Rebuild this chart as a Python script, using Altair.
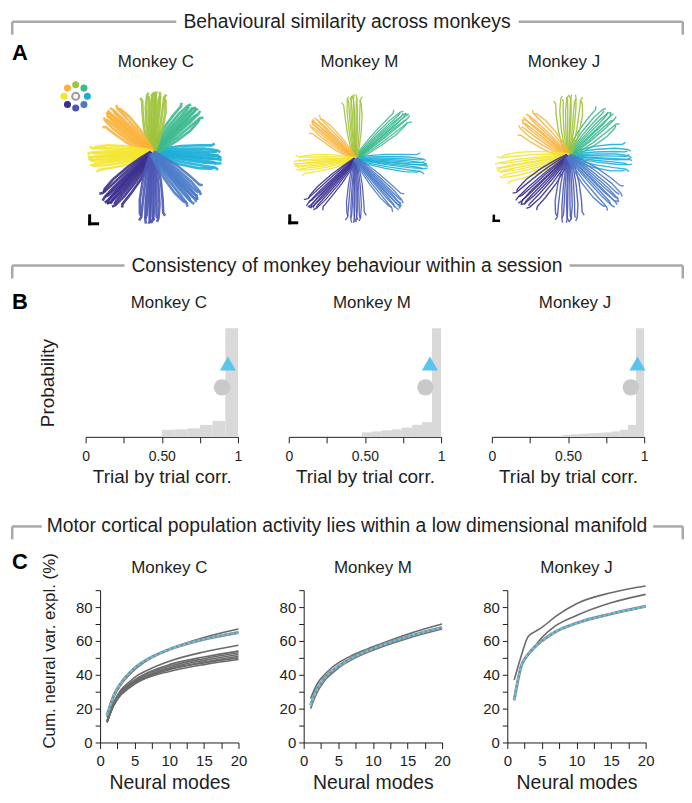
import math
import altair as alt
import pandas as pd

FONT = "Liberation Sans"
INK = "#1E1E1E"
BRACKET = "#A8A8A8"

MONKEYS = ["C", "M", "J"]
TITLES = {"C": "Monkey C", "M": "Monkey M", "J": "Monkey J"}

# ---------------- A: hand trajectories (8 reach directions) ----------------
DIR_NAMES = ["right", "up-right", "up", "up-left", "left", "down-left", "down", "down-right"]
DIR_COLORS = ["#1BAFD8", "#3DB98F", "#9FC33B", "#FBB23C", "#F3E530", "#3A2F8E", "#4B56B2", "#4A7AC8"]
LEGEND_ANGLES = [0, 45, 90, 135, 180, 225, 270, 315]

ARM_ANGLE = {
    "C": [-5, 45, 87, 137, 184, 227, 268, 313],
    "M": [-5, 41, 92, 138, 185, 226, 269, 313],
    "J": [-3, 44, 88, 140, 190, 224, 269, 316],
}
ARM_LENGTH = {
    "C": [70, 64, 62, 62, 65, 69, 71, 66],
    "M": [73, 70, 65, 59, 62, 68, 64, 67],
    "J": [64, 62, 62, 60, 74, 69, 67, 69],
}
ARM_SPREAD = {"C": 1.0, "M": 0.75, "J": 1.15}
TRAJ_LATERAL = [-11, -8, -5, -3, -1, 0, 2, 4, 6, 9, 12]
TRAJ_LENGTH = [0.90, 0.96, 1.00, 0.93, 0.98, 1.00, 0.95, 0.99, 0.92, 0.97, 0.88]
TRAJ_HOOK = [2, -3, 1, -2, 3, -1, 2, -3, 1, -2, 3]
PATH_RADIAL = [0.0, 0.2, 0.45, 0.75, 0.95, 1.0]
PATH_LATERAL = [0.2, 0.5, 0.8, 1.0, 1.0, 1.0]
PATH_HOOK = [0, 0, 0, 0, 0.3, 1.0]

# ---------------- B: trial-by-trial correlation histograms ----------------
HIST_EDGES = {
    "C": [0.50, 0.583, 0.667, 0.75, 0.833, 0.917, 1.0],
    "M": [0.48, 0.545, 0.61, 0.678, 0.743, 0.81, 0.875, 0.94, 1.0],
    "J": [0.465, 0.518, 0.572, 0.625, 0.679, 0.732, 0.786, 0.839, 0.893, 0.946, 1.0],
}
HIST_PROB = {
    "C": [0.044, 0.047, 0.053, 0.075, 0.10, 0.68],
    "M": [0.028, 0.034, 0.041, 0.047, 0.058, 0.075, 0.092, 0.68],
    "J": [0.012, 0.016, 0.019, 0.022, 0.025, 0.028, 0.034, 0.044, 0.075, 0.68],
}
TRIANGLE_X = {"C": 0.934, "M": 0.927, "J": 0.956}
CIRCLE_X = {"C": 0.895, "M": 0.897, "J": 0.912}
TRIANGLE_Y = 0.46
CIRCLE_Y = 0.31

# ---------------- C: cumulative variance explained ----------------
MODES = [1, 2, 3, 4, 5, 7, 10, 15, 20]
GRAY_CURVES = {
    "C": [
        [15, 27, 34, 39, 43, 49, 55, 62, 67],
        [16, 28, 35, 40, 44, 49.5, 55, 61, 65],
        [13, 24, 31, 35, 38.5, 43, 48, 53.5, 57.5],
        [12.5, 23, 30, 34, 37, 41.5, 46, 50.5, 54],
        [12, 23, 29.5, 33.5, 36.5, 41, 45, 49.5, 53],
        [12.5, 23.5, 29.5, 33, 36, 40, 44, 48.5, 52],
        [12, 22.5, 29, 32.5, 35.5, 39.5, 43.5, 47.5, 51],
        [12, 22, 28.5, 32, 35, 39, 43, 47, 50],
        [12, 22, 28, 31.5, 34.5, 38.5, 42, 46, 49],
    ],
    "M": [
        [26, 35, 40, 44, 47, 51.5, 56.5, 64, 70],
        [22, 32, 38, 42, 45, 50, 55.5, 62.5, 68],
        [20, 30, 36.5, 40.5, 44, 49, 54.5, 61.5, 67],
    ],
    "J": [
        [37, 51, 62.5, 65.5, 68, 74.5, 82, 88.5, 92.5],
        [25, 45, 52, 57, 62, 69, 75, 82.5, 87.5],
        [25, 45, 52, 56.5, 60, 65.5, 70.5, 76, 80.5],
    ],
}
BLUE_CURVE = {
    "C": [16, 28, 35, 40, 44, 49.5, 55, 61, 65],
    "M": [22, 32, 38, 42, 45, 50, 55.5, 62.5, 68],
    "J": [25, 45, 52, 56.5, 60, 65.5, 70.5, 76, 80.5],
}
VAR_Y_TITLE = "Cum. neural var. expl. (%)"
X_TICKS_C = [0, 2.5, 5, 7.5, 10, 12.5, 15, 17.5, 20]
Y_TICKS_C = [0, 10, 20, 30, 40, 50, 60, 70, 80, 90]

# ---------------- layout (pixels) ----------------
FULL_W = 676
STAR_FRAME = {  # width, x-domain, y-domain, title dx
    "C": (244, [-142, 102], [-93, 74], 23.5),
    "M": (204, [-102, 102], [-87, 80], 4),
    "J": (228, [-112, 116], [-90, 77], -6.5),
}
STAR_H = 167
SCALEBAR = {"C": (-63, -71, 8, 3), "M": (-66, -64, 7, 3), "J": (-75, -65, 5, 2.5)}
STAR_WIDTH = {"C": 2.6, "M": 1.3, "J": 1.4}
LEGEND_CENTER = (-77, 57)
LEGEND_R = 11.7
VAR_TITLE_OFFSET = {"C": 6, "M": 6, "J": 6}


def panel_title(m, offset, dx=0):
    return alt.TitleParams(TITLES[m], fontSize=17, fontWeight="normal", font=FONT, color=INK,
                           offset=offset, dx=dx, frame="group")


def star_panel(m):
    w, xdom, ydom, tdx = STAR_FRAME[m]
    rows = []
    for d, name in enumerate(DIR_NAMES):
        th = math.radians(ARM_ANGLE[m][d])
        for t in range(len(TRAJ_LATERAL)):
            for k in range(len(PATH_RADIAL)):
                r = ARM_LENGTH[m][d] * TRAJ_LENGTH[t] * PATH_RADIAL[k]
                lat = ARM_SPREAD[m] * TRAJ_LATERAL[t] * PATH_LATERAL[k] + TRAJ_HOOK[t] * PATH_HOOK[k]
                rows.append({"dir": name, "traj": f"{name}-{t}", "step": k,
                             "x": r * math.cos(th) - lat * math.sin(th),
                             "y": r * math.sin(th) + lat * math.cos(th)})
    df = pd.DataFrame(rows)
    xs = alt.Scale(domain=xdom, nice=False, zero=False)
    ys = alt.Scale(domain=ydom, nice=False, zero=False)
    cscale = alt.Scale(domain=DIR_NAMES, range=DIR_COLORS)
    lines = alt.Chart(df).mark_line(strokeWidth=STAR_WIDTH[m], opacity=0.9).encode(
        x=alt.X("x:Q", scale=xs, axis=None),
        y=alt.Y("y:Q", scale=ys, axis=None),
        color=alt.Color("dir:N", scale=cscale, legend=None),
        detail="traj:N",
        order="step:Q",
    )
    bx, by, bl, bw = SCALEBAR[m]
    bar_df = pd.DataFrame({"x": [bx, bx], "y": [by, by], "x2": [bx, bx + bl], "y2": [by + bl, by]})
    bar = alt.Chart(bar_df).mark_rule(color="black", strokeWidth=bw, strokeCap="square").encode(
        x=alt.X("x:Q", scale=xs, axis=None), y=alt.Y("y:Q", scale=ys, axis=None), x2="x2:Q", y2="y2:Q")
    layers = [lines, bar]
    if m == "C":
        cx, cy = LEGEND_CENTER
        leg = pd.DataFrame({
            "dir": DIR_NAMES,
            "x": [cx + LEGEND_R * math.cos(math.radians(a)) for a in LEGEND_ANGLES],
            "y": [cy + LEGEND_R * math.sin(math.radians(a)) for a in LEGEND_ANGLES],
        })
        dots = alt.Chart(leg).mark_circle(size=50, opacity=1).encode(
            x=alt.X("x:Q", scale=xs, axis=None), y=alt.Y("y:Q", scale=ys, axis=None),
            color=alt.Color("dir:N", scale=cscale, legend=None))
        ring = alt.Chart(pd.DataFrame({"x": [cx], "y": [cy]})).mark_point(
            shape="circle", size=50, filled=False, color="#9A9A9A", strokeWidth=2, opacity=1).encode(
            x=alt.X("x:Q", scale=xs, axis=None), y=alt.Y("y:Q", scale=ys, axis=None))
        layers += [dots, ring]
    return alt.layer(*layers).properties(width=w, height=STAR_H, title=panel_title(m, 8, tdx))


HIST_W, HIST_H = 153, 109


def hist_panel(m):
    edges = HIST_EDGES[m]
    df = pd.DataFrame({"lo": edges[:-1], "hi": edges[1:], "p": HIST_PROB[m], "base": 0.0})
    xs = alt.Scale(domain=[0, 1], nice=False)
    ys = alt.Scale(domain=[0, 0.68], nice=False)
    xaxis = alt.Axis(values=[0, 0.25, 0.5, 0.75, 1],
                     labelExpr="datum.value == 0 ? '0' : datum.value == 0.5 ? '0.50' : datum.value == 1 ? '1' : ''",
                     title="Trial by trial corr.", titleFontSize=19, labelFontSize=14, tickSize=6,
                     labelPadding=7, titleY=46, titleBaseline="alphabetic", grid=False, labelOverlap=False,
                     domainColor=INK, tickColor=INK, labelColor=INK, titleColor=INK, labelFlush=False)
    if m == "C":
        yaxis = alt.Axis(title="Probability", labels=False, ticks=False, domain=False, grid=False,
                         titleFontSize=19, titleAngle=270, titleX=-38, titleY=54.5,
                         titleBaseline="middle", titleAlign="center", titleColor=INK)
    else:
        yaxis = None
    enc_x = alt.X("x:Q", scale=xs, axis=xaxis)
    enc_y = alt.Y("y:Q", scale=ys, axis=yaxis)
    bars = alt.Chart(df).mark_rect(color="#D9D9D9").encode(
        x=alt.X("lo:Q", scale=xs, axis=xaxis), x2="hi:Q",
        y=alt.Y("base:Q", scale=ys, axis=yaxis), y2="p:Q")
    circ = alt.Chart(pd.DataFrame({"x": [CIRCLE_X[m]], "y": [CIRCLE_Y]})).mark_circle(
        size=270, color="#C9C9C9", opacity=1).encode(x=enc_x, y=enc_y)
    tri = alt.Chart(pd.DataFrame({"x": [TRIANGLE_X[m]], "y": [TRIANGLE_Y]})).mark_point(
        shape="triangle-up", size=260, filled=True, color="#5BC4EC", opacity=1).encode(x=enc_x, y=enc_y)
    return alt.layer(bars, circ, tri).properties(width=HIST_W, height=HIST_H, title=panel_title(m, 16, 7))


LINE_W, LINE_H = 139, 153


def var_panel(m):
    rows = []
    for i, curve in enumerate(GRAY_CURVES[m]):
        for x, y in zip(MODES, curve):
            rows.append({"curve": f"g{i}", "mode": x, "var": y})
    gdf = pd.DataFrame(rows)
    bdf = pd.DataFrame({"mode": MODES, "var": BLUE_CURVE[m]})
    xs = alt.Scale(domain=[0, 20], nice=False)
    ys = alt.Scale(domain=[0, 90], nice=False)
    xaxis = alt.Axis(values=X_TICKS_C,
                     labelExpr="datum.value % 5 == 0 ? datum.label : ''",
                     title="Neural modes", titleFontSize=19.5, labelFontSize=15, tickSize=6,
                     labelPadding=5, titleY=46, titleBaseline="alphabetic", grid=False, labelOverlap=False,
                     domainColor=INK, tickColor=INK, labelColor=INK, titleColor=INK, labelFlush=False)
    yaxis = alt.Axis(values=Y_TICKS_C,
                     labelExpr="datum.value % 20 == 0 ? datum.label : ''",
                     labelFontSize=15, tickSize=5, labelPadding=3, grid=False, title=None, labelOverlap=False,
                     domainColor=INK, tickColor=INK, labelColor=INK)
    enc_x = alt.X("mode:Q", scale=xs, axis=xaxis)
    enc_y = alt.Y("var:Q", scale=ys, axis=yaxis)
    gray = alt.Chart(gdf).mark_line(color="#6B6B6B", strokeWidth=1.6, interpolate="monotone").encode(
        x=enc_x, y=enc_y, detail="curve:N")
    blue_under = alt.Chart(bdf).mark_line(color="#8A8A8A", strokeWidth=3, interpolate="monotone").encode(
        x=enc_x, y=enc_y)
    blue = alt.Chart(bdf).mark_line(color="#5EC3E6", strokeWidth=2.2, strokeDash=[3, 2],
                                    interpolate="monotone").encode(x=enc_x, y=enc_y)
    return alt.layer(gray, blue_under, blue).properties(
        width=LINE_W, height=LINE_H, title=panel_title(m, VAR_TITLE_OFFSET[m]))


def header(text, height, line_y, left_end, right_start, letter, letter_y):
    segs = pd.DataFrame({
        "x": [1.25, 1.25, right_start, FULL_W - 1.25],
        "x2": [left_end, 1.25, FULL_W - 1.25, FULL_W - 1.25],
        "y": [line_y, line_y, line_y, line_y],
        "y2": [line_y, line_y + 13, line_y, line_y + 13],
    })
    rules = alt.Chart(segs).mark_rule(color=BRACKET, strokeWidth=2.5).encode(
        x=alt.X("x:Q", scale=None), x2="x2:Q", y=alt.Y("y:Q", scale=None), y2="y2:Q")
    label = alt.Chart(pd.DataFrame({"t": [text]})).mark_text(
        fontSize=19.4, font=FONT, color=INK, baseline="middle", align="center").encode(
        text="t:N", x=alt.value(337.5), y=alt.value(line_y))
    let = alt.Chart(pd.DataFrame({"t": [letter]})).mark_text(
        fontSize=22, font=FONT, fontWeight="bold", color="black", baseline="alphabetic", align="left").encode(
        text="t:N", x=alt.value(1), y=alt.value(letter_y))
    return alt.layer(rules, label, let).properties(width=FULL_W, height=height)


def spacer(w, h, text=None):
    base = alt.Chart(pd.DataFrame({"a": [0]})).mark_point(opacity=0).encode(
        x=alt.X("a:Q", axis=None), y=alt.Y("a:Q", axis=None))
    if text is None:
        return base.properties(width=w, height=h)
    # vertical axis title shared by the row, placed left of the first panel
    ttl = alt.Chart(pd.DataFrame({"t": [text]})).mark_text(
        fontSize=17, font=FONT, color=INK, angle=270, baseline="middle", align="center").encode(
        text="t:N", x=alt.value(39), y=alt.value(61))
    return alt.layer(base, ttl).properties(width=w, height=h)


head_a = header("Behavioural similarity across monkeys", 70, 12, 166, 510, "A", 50)
row_a = alt.hconcat(*[star_panel(m) for m in MONKEYS], spacing=0, bounds="flush")
head_b = header("Consistency of monkey behaviour within a session", 83, 20, 114, 561, "B", 64)
row_b = alt.hconcat(spacer(24, HIST_H), *[hist_panel(m) for m in MONKEYS], spacing=51, bounds="flush")
head_c = header("Motor cortical population activity lies within a low dimensional manifold", 154, 90, 31, 645, "C", 133)
row_c = alt.hconcat(spacer(23.5, LINE_H, VAR_Y_TITLE), *[var_panel(m) for m in MONKEYS],
                    spacing=65.5, bounds="flush")

# nested rows count as zero height in a flush layout, so each is followed by a blank block of its height
chart = alt.vconcat(head_a, row_a, spacer(1, STAR_H), head_b, row_b, spacer(1, HIST_H),
                    head_c, row_c, spacing=0, bounds="flush").properties(
    padding=0
).configure_view(stroke=None).configure_axis(
    labelFont=FONT, titleFont=FONT, titleFontWeight="normal", labelOverlap=False
)

chart.save("out.html", embed_options={"renderer": "svg", "actions": False})
